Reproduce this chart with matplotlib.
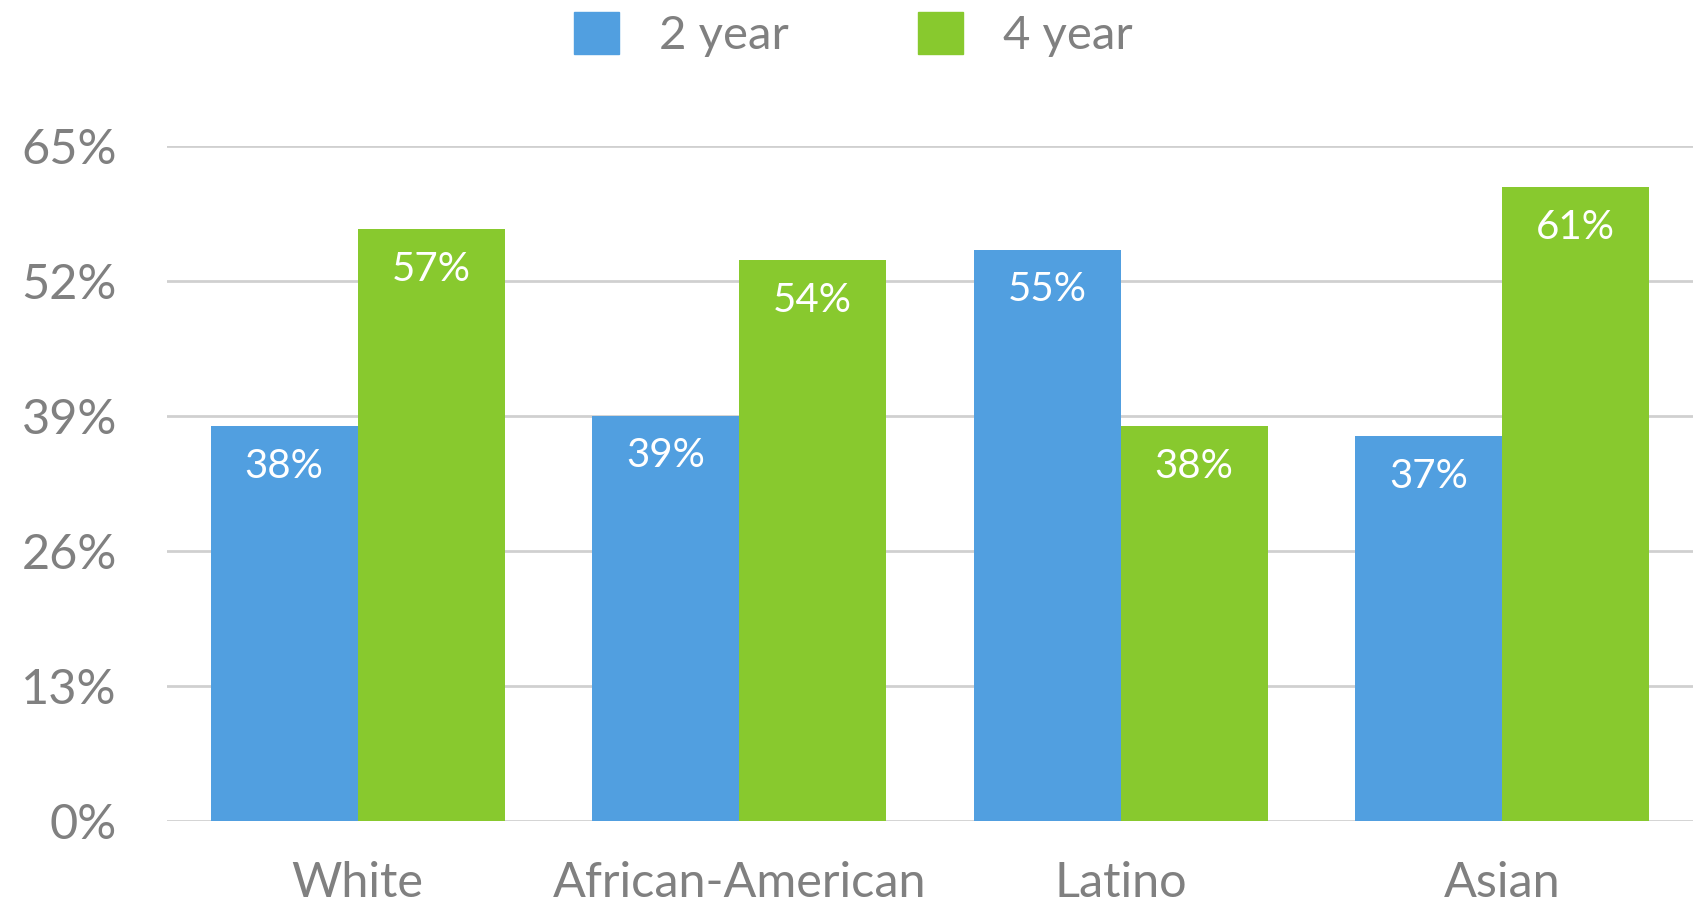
import matplotlib
matplotlib.use("Agg")
import matplotlib.pyplot as plt
from matplotlib.patches import Patch
import numpy as np

categories = ["White", "African-American", "Latino", "Asian"]
two_year = [38, 39, 55, 37]
four_year = [57, 54, 38, 61]
series_names = ["2 year", "4 year"]
yticks = [0, 13, 26, 39, 52, 65]
ytick_labels = ["0%", "13%", "26%", "39%", "52%", "65%"]

BLUE = "#519FE0"
GREEN = "#88C92E"
GREY = "#808080"
GRID = "#D0D0D0"

plt.rcParams['font.family'] = ['Lato', 'DejaVu Sans']

fig = plt.figure(figsize=(16.93, 9.08), dpi=100)
ax = fig.add_axes([0.0986, 0.0963, 0.9014, 0.7432])

x = np.arange(len(categories))
w = 0.385
b1 = ax.bar(x - w / 2, two_year, width=w, color=BLUE, zorder=3)
b2 = ax.bar(x + w / 2, four_year, width=w, color=GREEN, zorder=3)

for bars, vals in ((b1, two_year), (b2, four_year)):
    for rect, v in zip(bars, vals):
        ax.annotate(f"{v}%", xy=(rect.get_x() + rect.get_width() / 2, rect.get_height()),
                    xytext=(0, -29), textcoords="offset points",
                    ha="center", va="center", color="white", fontsize=29, zorder=4)

ax.set_xlim(-0.5, 3.5)
ax.set_ylim(0, 65)
ax.set_yticks(yticks)
ax.set_yticklabels(ytick_labels)
ax.set_xticks(x)
ax.set_xticklabels(categories)
ax.tick_params(axis="y", length=0, pad=36, labelsize=35, labelcolor=GREY)
ax.tick_params(axis="x", length=0, pad=29, labelsize=35, labelcolor=GREY)
for s in ax.spines.values():
    s.set_visible(False)
ax.yaxis.grid(True, color=GRID, linewidth=2, zorder=0)
ax.set_axisbelow(True)

handles = [Patch(color=BLUE), Patch(color=GREEN)]
fig.legend(handles, series_names, loc="center", bbox_to_anchor=(0.504, 0.962),
           ncol=2, frameon=False, fontsize=34, labelcolor=GREY,
           handlelength=0.95, handleheight=1.0, handletextpad=0.85,
           columnspacing=2.75)

fig.savefig("out.png", dpi=100)
